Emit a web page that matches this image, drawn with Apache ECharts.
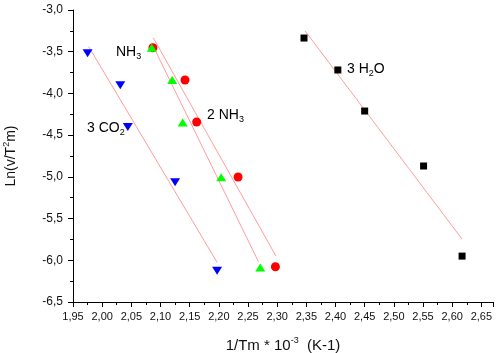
<!DOCTYPE html>
<html>
<head>
<meta charset="utf-8">
<script src="https://cdn.jsdelivr.net/npm/echarts@6/dist/echarts.min.js"></script>
<style>
  html, body { margin: 0; padding: 0; background: #fff; }
  #main { width: 500px; height: 353px; }
</style>
</head>
<body>
<div id="main"></div>
<script>
// points
var h2oX = [2.346, 2.404, 2.450, 2.551, 2.617];
var h2oY = [-3.336, -3.719, -4.211, -4.870, -5.950];
var nh3X = [2.085, 2.120, 2.138, 2.204, 2.271];
var nh3Y = [-3.452, -3.839, -4.347, -5.006, -6.085];
var nh3bX = [2.087, 2.142, 2.162, 2.233, 2.297];
var nh3bY = [-3.452, -3.839, -4.343, -5.002, -6.078];
var co2X = [1.975, 2.031, 2.044, 2.125, 2.197];
var co2Y = [-3.519, -3.903, -4.403, -5.066, -6.126];

// fitted lines, end points
var fitH2oX = [2.348, 2.617], fitH2oY = [-3.252, -5.746];
var fitNh3X = [2.085, 2.268], fitNh3Y = [-3.399, -6.018];
var fitNh3bX = [2.0875, 2.298], fitNh3bY = [-3.332, -5.950];
var fitCo2X = [1.977, 2.197], fitCo2Y = [-3.440, -6.025];

function pairs(xs, ys) {
    return xs.map(function (x, i) { return [x, ys[i]]; });
}

var font = 'Liberation Sans, Arial, sans-serif';
var fitStyle = { color: 'rgba(255,60,60,0.5)', width: 1 };

function fitSeries(xs, ys) {
    return {
        type: 'line', data: pairs(xs, ys), showSymbol: false, symbol: 'none',
        lineStyle: fitStyle, z: 1, silent: true, animation: false
    };
}
function dots(xs, ys, symbol, size, color, rotate) {
    return {
        type: 'scatter', data: pairs(xs, ys), symbol: symbol, symbolSize: size,
        symbolRotate: rotate || 0, itemStyle: { color: color, opacity: 1 }, z: 3, animation: false
    };
}

var rich = {
    a: { fontSize: 14, fontFamily: font, color: '#111' },
    s: { fontSize: 9, fontFamily: font, color: '#111', padding: [10, 0, 0, 0] },
    p: { fontSize: 9, fontFamily: font, color: '#111', padding: [0, 0, 10, 0] }
};
function note(x, y, text) {
    return {
        type: 'text', x: x, y: y, z: 10,
        style: { text: text, rich: rich, verticalAlign: 'middle', align: 'left' }
    };
}

var myChart = echarts.init(document.getElementById('main'));
var option = {
    animation: false,
    grid: { left: 73, right: 7, top: 10, bottom: 51, containLabel: false, outerBoundsMode: 'none' },
    xAxis: {
        type: 'value', min: 1.95, max: 2.67, interval: 0.05,
        name: '{a|1/Tm * 10}{p|-3}{a|  (K-1)}',
        nameLocation: 'middle', nameGap: 34,
        nameTextStyle: { rich: { a: { fontSize: 15, fontFamily: font, color: '#111' }, p: { fontSize: 9, fontFamily: font, color: '#111', padding: [0, 0, 10, 0] } } },
        axisLine: { lineStyle: { color: '#000', width: 1 } },
        axisTick: { length: 5, lineStyle: { color: '#000' } },
        minorTick: { show: true, splitNumber: 2, length: 3, lineStyle: { color: '#000' } },
        axisLabel: {
            fontSize: 11, fontFamily: font, color: '#111', margin: 9, showMaxLabel: false,
            formatter: function (v) { return v.toFixed(2).replace('.', ','); }
        },
        splitLine: { show: false }
    },
    yAxis: {
        type: 'value', min: -6.5, max: -3.0, interval: 0.5,
        name: '{a|Ln(v/T}{p|2}{a|m)}',
        nameLocation: 'middle', nameGap: 52, nameRotate: 90,
        nameTextStyle: { rich: { a: { fontSize: 14, fontFamily: font, color: '#111' }, p: { fontSize: 9, fontFamily: font, color: '#111', padding: [0, 0, 10, 0] } } },
        axisLine: { show: true, lineStyle: { color: '#000', width: 1 } },
        axisTick: { show: true, length: 5, lineStyle: { color: '#000' } },
        minorTick: { show: true, splitNumber: 2, length: 3, lineStyle: { color: '#000' } },
        axisLabel: {
            fontSize: 12, fontFamily: font, color: '#111', margin: 10,
            formatter: function (v) { return v.toFixed(1).replace('.', ','); }
        },
        splitLine: { show: false }
    },
    graphic: [
        note(116, 52, '{a|NH}{s|3}'),
        note(207, 115, '{a|2 NH}{s|3}'),
        note(87, 128, '{a|3 CO}{s|2}'),
        note(347, 69, '{a|3 H}{s|2}{a|O}')
    ],
    series: [
        fitSeries(fitH2oX, fitH2oY),
        fitSeries(fitNh3X, fitNh3Y),
        fitSeries(fitNh3bX, fitNh3bY),
        fitSeries(fitCo2X, fitCo2Y),
        dots(nh3bX, nh3bY, 'circle', 9, '#ff0000'),
        dots(nh3X, nh3Y, 'triangle', [10, 8], '#00ff00'),
        dots(co2X, co2Y, 'triangle', [10, 8], '#0000ff', 180),
        dots(h2oX, h2oY, 'rect', 7, '#000000')
    ]
};
myChart.setOption(option);
</script>
</body>
</html>
